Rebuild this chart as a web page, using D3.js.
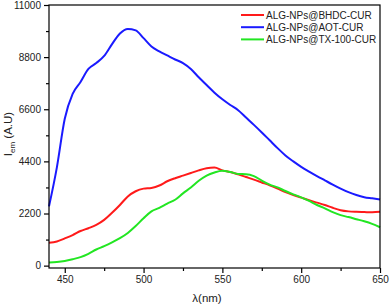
<!DOCTYPE html>
<html>
<head>
<meta charset="utf-8">
<script src="https://cdnjs.cloudflare.com/ajax/libs/d3/7.8.5/d3.min.js"></script>
<style>
  body { margin: 0; background: #fff; }
  svg { display: block; font-family: "Liberation Sans", Arial, sans-serif; }
</style>
</head>
<body>
<svg id="chart" width="390" height="307"></svg>
<script>
// wavelength grid (nm)
const wavelengths = [440, 445, 450, 455, 460, 465, 470, 475, 480, 485, 490, 495, 500, 505, 510,
  515, 520, 525, 530, 535, 540, 545, 550, 555, 560, 565, 570, 575, 580, 585, 590, 595, 600,
  605, 610, 615, 620, 625, 630, 635, 640, 645, 650];

// emission intensities
const bhdc = [970, 1020, 1150, 1290, 1460, 1580, 1720, 1930, 2230, 2560, 2920, 3140, 3250, 3280, 3380,
  3560, 3690, 3800, 3910, 4020, 4110, 4140, 4020, 3950, 3850, 3740, 3630, 3510, 3390, 3250, 3100, 2980, 2870,
  2760, 2660, 2560, 2440, 2340, 2290, 2270, 2260, 2250, 2270];
const aot = [2500, 4150, 6200, 7250, 7750, 8300, 8550, 8850, 9350, 9800, 9990, 9930, 9600, 9250, 9040,
  8870, 8700, 8550, 8300, 7950, 7620, 7300, 7020, 6780, 6560, 6250, 5940, 5620, 5290, 4960, 4650, 4400, 4170,
  3970, 3780, 3600, 3420, 3250, 3100, 2980, 2890, 2840, 2790];
const tx100 = [130, 150, 195, 270, 360, 500, 680, 820, 980, 1160, 1380, 1670, 2000, 2290, 2440,
  2620, 2780, 3050, 3300, 3580, 3800, 3930, 4000, 3950, 3870, 3860, 3780, 3590, 3420, 3300, 3150, 3010, 2880,
  2730, 2560, 2420, 2260, 2130, 2050, 1960, 1870, 1760, 1620];

const seriesNames = ["ALG-NPs@BHDC-CUR", "ALG-NPs@AOT-CUR", "ALG-NPs@TX-100-CUR"];
const seriesValues = [bhdc, aot, tx100];
const seriesColors = ["#ff1a1a", "#1a1aff", "#22e622"];

const xTicks = [450, 500, 550, 600, 650];
const xMinor = [475, 525, 575, 625];
const yTicks = [0, 2200, 4400, 6600, 8800, 11000];
const yMinor = [1100, 3300, 5500, 7700, 9900];

const svg = d3.select("#chart");
const plot = {left: 49, right: 380, top: 5, bottom: 268};

const x = d3.scaleLinear().domain([440, 650]).range([plot.left, plot.right]);
const y = d3.scaleLinear().domain([-100, 11000]).range([plot.bottom, plot.top]);

// curves
const line = d3.line()
  .x((d, i) => x(wavelengths[i]))
  .y(d => y(d))
  .curve(d3.curveMonotoneX);

seriesValues.forEach((vals, k) => {
  svg.append("path")
    .datum(vals)
    .attr("fill", "none")
    .attr("stroke", seriesColors[k])
    .attr("stroke-width", 2)
    .attr("d", line);
});

// frame
svg.append("rect")
  .attr("x", plot.left)
  .attr("y", plot.top)
  .attr("width", plot.right - plot.left)
  .attr("height", plot.bottom - plot.top)
  .attr("fill", "none")
  .attr("stroke", "#000")
  .attr("stroke-width", 1.2);

// axes
svg.append("g")
  .attr("transform", `translate(0,${plot.bottom})`)
  .call(d3.axisBottom(x).tickValues(xTicks).tickSize(5).tickPadding(3));
svg.append("g")
  .attr("transform", `translate(0,${plot.bottom})`)
  .call(d3.axisBottom(x).tickValues(xMinor).tickSize(3).tickFormat(""));

svg.append("g")
  .attr("transform", `translate(${plot.left},0)`)
  .call(d3.axisLeft(y).tickValues(yTicks).tickSize(5).tickPadding(3).tickFormat(d3.format("d")));
svg.append("g")
  .attr("transform", `translate(${plot.left},0)`)
  .call(d3.axisLeft(y).tickValues(yMinor).tickSize(3).tickFormat(""));

svg.selectAll(".domain").remove();
svg.selectAll(".tick line").attr("stroke", "#000").attr("stroke-width", 1.2);
svg.selectAll(".tick text")
  .attr("fill", "#222")
  .style("font-size", "10px")
  .style("font-family", "Liberation Sans, Arial, sans-serif");

// axis titles
svg.append("text")
  .attr("x", 207)
  .attr("y", 302)
  .attr("text-anchor", "middle")
  .attr("font-size", 11.5)
  .attr("fill", "#222")
  .text("λ(nm)");

const yTitle = svg.append("text")
  .attr("transform", "translate(12,134) rotate(-90)")
  .attr("text-anchor", "middle")
  .attr("font-size", 11.5)
  .attr("fill", "#222");
yTitle.append("tspan").text("I");
yTitle.append("tspan").attr("font-size", 8).attr("dy", 3).text("em");
yTitle.append("tspan").attr("dy", -3).text(" (A.U)");

// legend
const legend = svg.append("g");
seriesNames.forEach((name, k) => {
  const ly = 15 + k * 12.2;
  legend.append("line")
    .attr("x1", 241).attr("x2", 264)
    .attr("y1", ly).attr("y2", ly)
    .attr("stroke", seriesColors[k])
    .attr("stroke-width", 2);
  legend.append("text")
    .attr("x", 266)
    .attr("y", ly + 3.6)
    .attr("font-size", 10)
    .attr("fill", "#222")
    .text(name);
});
</script>
</body>
</html>
